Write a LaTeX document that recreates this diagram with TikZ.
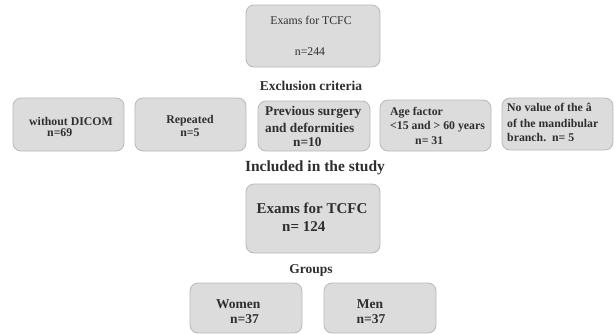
\documentclass[tikz,border=0pt]{standalone}
\usepackage{fontspec}
\setmainfont{Liberation Serif}
\definecolor{boxfill}{HTML}{DCDCDC}
\definecolor{boxline}{HTML}{B8B8B8}
\definecolor{txt}{HTML}{2E2E2E}
\begin{document}
\begin{tikzpicture}[x=1pt,y=-1pt,
  gbox/.style={draw=boxline,fill=boxfill,line width=0.8pt,rounded corners=8pt},
  t/.style={text=txt,inner sep=0pt,font=\fontsize{11.8}{13}\selectfont\bfseries},
  tl/.style={t,anchor=west},
  tr/.style={text=txt,inner sep=0pt,font=\fontsize{11.8}{13}\selectfont},
  big/.style={text=txt,inner sep=0pt,font=\fontsize{15}{17}\selectfont\bfseries},
  head/.style={text=txt,inner sep=0pt,font=\fontsize{13.5}{15}\selectfont\bfseries}]
\useasboundingbox (0,0) rectangle (614,333);
% boxes
\draw[gbox] (246,5) rectangle (380,67) coordinate (topbox);
\draw[gbox] (13,98) rectangle (124,151);
\draw[gbox] (135,98) rectangle (246,151);
\draw[gbox] (258,101) rectangle (370,151);
\draw[gbox] (380,100) rectangle (491,151);
\draw[gbox] (502,98) rectangle (613,150);
\draw[gbox] (246,184) rectangle (380,253);
\draw[gbox] (190,283) rectangle (302,333);
\draw[gbox] (324,283) rectangle (436,333);
% top box text
\node[tr] (top1) at (311,20) {Exams for TCFC};
\node[tr] (top2) at (310,52) {n=244};
\node[head] (excl) at (311,86) {Exclusion criteria};
% row
\node[t] (b1a) at (71,121) {without DICOM};
\node[tl] (b1b) at (47,133) {n=69};
\node[t] (b2a) at (190,121) {Repeated};
\node[t] (b2b) at (190,133) {n=5};
\node[tl,font=\fontsize{13.3}{15}\selectfont\bfseries] (b3a) at (265,112) {Previous surgery};
\node[tl,font=\fontsize{13.3}{15}\selectfont\bfseries] (b3b) at (265,128) {and deformities};
\node[tl,font=\fontsize{13.3}{15}\selectfont\bfseries] (b3c) at (293,142) {n=10};
\node[tl] (b4a) at (390,113) {Age factor};
\node[tl] (b4b) at (390,127) {<15 and > 60 years};
\node[tl] (b4c) at (415,141) {n= 31};
\node[tl] (b5a) at (507,107) {No value of the â};
\node[tl] (b5b) at (507,123) {of the mandibular};
\node[tl] (b5c) at (507,137) {branch.\ \ n= 5};
% included
\node[head,font=\fontsize{15.5}{17}\selectfont\bfseries] (incl) at (315,168) {Included in the study};
\node[big] (c1) at (312,208) {Exams for TCFC};
\node[big,anchor=west] (c2) at (282,227) {n= 124};
\node[head] (grp) at (311,270) {Groups};
\node[head,anchor=west] (w1) at (216,304) {Women};
\node[head,anchor=west] (w2) at (230,319) {n=37};
\node[head] (m1) at (370,304) {Men};
\node[head] (m2) at (371,319) {n=37};
\end{tikzpicture}
\end{document}
